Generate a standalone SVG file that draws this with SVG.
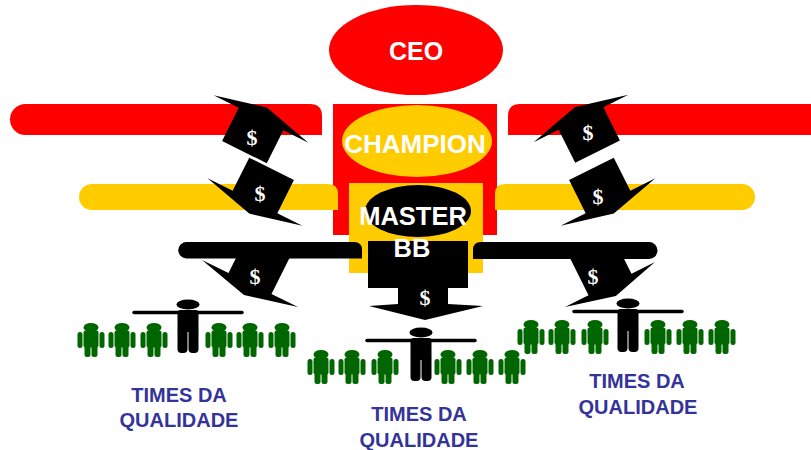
<svg xmlns="http://www.w3.org/2000/svg" xmlns:xlink="http://www.w3.org/1999/xlink" width="811" height="450" viewBox="0 0 811 450">
  <style>
    .red { fill: #ff0000; }
    .yellow { fill: #ffcc00; }
    .black { fill: #000000; }
    .title { font-family: "Liberation Sans", Arial, sans-serif; font-weight: bold; fill: #ffffff; text-anchor: middle; }
    .dollar { font-family: "Liberation Serif", "Times New Roman", serif; font-weight: bold; font-size: 22px; fill: #ffffff; text-anchor: middle; }
    .team { font-family: "Liberation Sans", Arial, sans-serif; font-weight: bold; font-size: 20px; fill: #333399; text-anchor: middle; }
    .member { fill: #006600; }
    .arms { stroke: #000000; stroke-width: 3.5; stroke-linecap: round; }
  </style>
  <defs>
    <!-- wide-headed block arrow, origin at the middle of the head base, pointing up -->
    <path id="dollar-arrow" d="M-53,0 L0,-13 L53,0 H25 V37 H-25 V0 Z"/>
    <!-- team member pictogram, origin at top centre of the head -->
    <g id="member" class="member">
      <ellipse cx="0" cy="4.5" rx="7.5" ry="4.5"/>
      <rect x="-7.5" y="7.5" width="15" height="17" rx="2"/>
      <rect x="-13.5" y="9" width="5" height="16" rx="2.5"/>
      <rect x="8.5" y="9" width="5" height="16" rx="2.5"/>
      <rect x="-6.5" y="21" width="6" height="13" rx="2.5"/>
      <rect x="0.5" y="21" width="6" height="13" rx="2.5"/>
    </g>
    <!-- team leader pictogram with outstretched arms -->
    <g id="leader">
      <line class="arms" x1="-54" y1="12.5" x2="54" y2="12.5"/>
      <ellipse class="black" cx="0" cy="4.5" rx="11.5" ry="5"/>
      <rect class="black" x="-10.5" y="10" width="21" height="22" rx="3"/>
      <rect class="black" x="-10.5" y="27" width="10" height="26" rx="4"/>
      <rect class="black" x="0.5" y="27" width="10" height="26" rx="4"/>
    </g>
  </defs>

  <rect width="811" height="450" fill="#ffffff"/>

  <g id="ceo">
    <ellipse class="red" cx="416" cy="50" rx="87" ry="45"/>
    <text class="title" x="416" y="60" font-size="25">CEO</text>
  </g>

  <g id="champion">
    <rect class="red" x="333" y="104" width="164" height="131"/>
    <ellipse class="yellow" cx="417" cy="141" rx="75" ry="36"/>
    <text class="title" x="415" y="153" font-size="26">CHAMPION</text>
  </g>

  <g id="master-bb">
    <rect class="yellow" x="349" y="183" width="134" height="90"/>
    <ellipse class="black" cx="418" cy="211" rx="53" ry="26"/>
  </g>

  <g id="connectors">
    <!-- red level -->
    <path class="red" d="M25.5,104 H310 Q322,104 322,116 V135 H25.5 A15.5,15.5 0 0 1 25.5,104 Z"/>
    <path class="red" d="M811,104 V135 H508 V116 Q508,104 520,104 Z"/>
    <!-- yellow level -->
    <path class="yellow" d="M92,184 H328 Q338,184 338,194 V210 H92 A13,13 0 0 1 92,184 Z"/>
    <path class="yellow" d="M505,184 H742 A13,13 0 0 1 742,210 H495 V194 Q495,184 505,184 Z"/>
    <!-- black level -->
    <path class="black" d="M186.5,242 H354 Q362,242 362,250 V258.5 H186.5 A8.25,8.25 0 0 1 186.5,242 Z"/>
    <path class="black" d="M481,242 H649 A8.5,8.5 0 0 1 649,259 H473 V250 Q473,242 481,242 Z"/>

    <!-- arrows between the red and yellow levels -->
    <use href="#dollar-arrow" transform="translate(261,119) rotate(26.6)"/>
    <use href="#dollar-arrow" transform="translate(255,202) rotate(206.6)"/>
    <use href="#dollar-arrow" transform="translate(581,118.5) rotate(-26.6)"/>
    <use href="#dollar-arrow" transform="translate(608,202) rotate(153.4)"/>

    <!-- arrows leaving the black level towards the teams -->
    <path class="black" d="M202,260 L244,295 L298,307 L271.5,294 L293.5,250 L240,250 L228.5,273 Z"/>
    <path class="black" d="M565,307 L588.5,295.2 L566,250 L619.6,250 L631.5,273.8 L655,262 L615.8,296 Z"/>
    <path class="black" d="M368,241 H468 V288 H448 V304 L483,306 L425,320 L369,306 L398,304 V288 H368 Z"/>

    <text class="dollar" x="252" y="145">$</text>
    <text class="dollar" x="260" y="201">$</text>
    <text class="dollar" x="588" y="140">$</text>
    <text class="dollar" x="598" y="204">$</text>
    <text class="dollar" x="255" y="284">$</text>
    <text class="dollar" x="593" y="284">$</text>
    <text class="dollar" x="425" y="305">$</text>
  </g>

  <g id="master-bb-label">
    <text class="title" x="413" y="225" font-size="25.5">MASTER</text>
    <text class="title" x="412" y="257" font-size="25.5">BB</text>
  </g>

  <g id="team-1">
    <use href="#leader" x="188" y="300"/>
    <use href="#member" x="91" y="323"/>
    <use href="#member" x="122" y="323"/>
    <use href="#member" x="154" y="323"/>
    <use href="#member" x="219" y="323"/>
    <use href="#member" x="250" y="323"/>
    <use href="#member" x="282" y="323"/>
    <text class="team" x="179" y="402">TIMES DA</text>
    <text class="team" x="179" y="427">QUALIDADE</text>
  </g>

  <g id="team-2">
    <use href="#leader" x="421" y="328"/>
    <use href="#member" x="321" y="350"/>
    <use href="#member" x="352" y="350"/>
    <use href="#member" x="385" y="350"/>
    <use href="#member" x="448" y="350"/>
    <use href="#member" x="480" y="350"/>
    <use href="#member" x="512" y="350"/>
    <text class="team" x="419" y="421">TIMES DA</text>
    <text class="team" x="419" y="447">QUALIDADE</text>
  </g>

  <g id="team-3">
    <use href="#leader" x="628" y="299"/>
    <use href="#member" x="531" y="320"/>
    <use href="#member" x="562" y="320"/>
    <use href="#member" x="595" y="320"/>
    <use href="#member" x="658" y="320"/>
    <use href="#member" x="690" y="320"/>
    <use href="#member" x="722" y="320"/>
    <text class="team" x="637" y="388">TIMES DA</text>
    <text class="team" x="638" y="414">QUALIDADE</text>
  </g>
</svg>
